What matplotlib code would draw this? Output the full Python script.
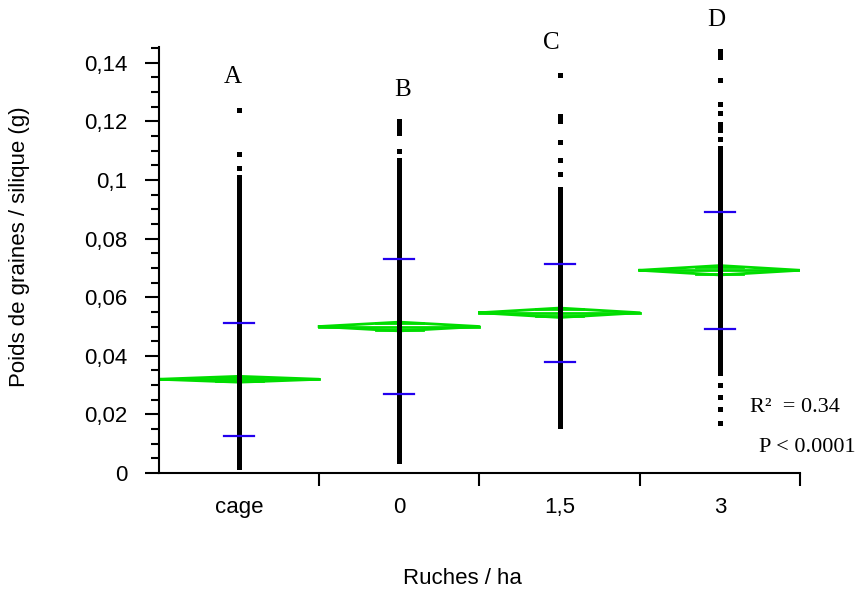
import matplotlib.pyplot as plt
import numpy as np
from matplotlib.ticker import FixedLocator, MultipleLocator, FuncFormatter

groups = ['cage', '0', '1,5', '3']
letters = ['A', 'B', 'C', 'D']
letter_y = [0.1352, 0.1308, 0.1468, 0.1547]
letter_x = [0.46, 1.52, 2.45, 3.48]

# seed weight per silique, in mg
cage_mg = [124, 109, 104,
           101, 100, 99, 98, 97, 96, 95, 94, 93, 92, 91, 90, 89, 88, 87, 86, 85, 84, 83, 82, 81,
           80, 79, 78, 77, 76, 75, 74, 73, 72, 71, 70, 69, 68, 67, 66, 65, 64, 63, 62, 61,
           60, 59, 58, 57, 56, 55, 54, 53, 52, 51, 50, 49, 48, 47, 46, 45, 44, 43, 42, 41,
           40, 39, 38, 37, 36, 35, 34, 33, 32, 31, 30, 29, 28, 27, 26, 25, 24, 23, 22, 21,
           20, 19, 18, 17, 16, 15, 14, 13, 12, 11, 10, 9, 8, 7, 6, 5, 4, 3, 2]
zero_mg = [120, 119, 118, 117, 116, 110,
           107, 106, 105, 104, 103, 102, 101, 100, 99, 98, 97, 96, 95, 94, 93, 92, 91, 90,
           89, 88, 87, 86, 85, 84, 83, 82, 81, 80, 79, 78, 77, 76, 75, 74, 73, 72, 71, 70,
           69, 68, 67, 66, 65, 64, 63, 62, 61, 60, 59, 58, 57, 56, 55, 54, 53, 52, 51, 50,
           49, 48, 47, 46, 45, 44, 43, 42, 41, 40, 39, 38, 37, 36, 35, 34, 33, 32, 31, 30,
           29, 28, 27, 26, 25, 24, 23, 22, 21, 20, 19, 18, 17, 16, 15, 14, 13, 12, 11, 10,
           9, 8, 7, 6, 5, 4]
one5_mg = [136, 122, 121, 120, 113, 107, 102,
           97, 96, 95, 94, 93, 92, 91, 90, 89, 88, 87, 86, 85, 84, 83, 82, 81, 80,
           79, 78, 77, 76, 75, 74, 73, 72, 71, 70, 69, 68, 67, 66, 65, 64, 63, 62, 61, 60,
           59, 58, 57, 56, 55, 54, 53, 52, 51, 50, 49, 48, 47, 46, 45, 44, 43, 42, 41, 40,
           39, 38, 37, 36, 35, 34, 33, 32, 31, 30, 29, 28, 27, 26, 25, 24, 23, 22, 21, 20,
           19, 18, 17, 16]
three_mg = [144, 143, 142, 134, 126, 123, 119, 118, 117, 114,
            111, 110, 109, 108, 107, 106, 105, 104, 103, 102, 101, 100, 99, 98, 97, 96, 95,
            94, 93, 92, 91, 90, 89, 88, 87, 86, 85, 84, 83, 82, 81, 80, 79, 78, 77, 76, 75,
            74, 73, 72, 71, 70, 69, 68, 67, 66, 65, 64, 63, 62, 61, 60, 59, 58, 57, 56, 55,
            54, 53, 52, 51, 50, 49, 48, 47, 46, 45, 44, 43, 42, 41, 40, 39, 38, 37, 36, 35,
            34, 30, 26, 22, 17]

means = [0.0320, 0.0500, 0.0547, 0.0692]
sds = [0.0193, 0.0232, 0.0167, 0.0200]
ci = [0.0010, 0.0015, 0.0016, 0.0016]

data = [cage_mg, zero_mg, one5_mg, three_mg]

fig = plt.figure(figsize=(8.58, 5.9), dpi=100)
ax = fig.add_axes([0.1853, 0.1983, 0.7471, 0.7225])

green = '#00dd00'
blue = '#2200ee'

for i, vals in enumerate(data):
    xc = i + 0.5
    y = np.array(vals) / 1000
    ax.plot(np.full(len(y), xc), y, ls='none', marker='s', ms=3.6, mew=0, color='black', zorder=3)

    m, c = means[i], ci[i]
    x0, x1 = i, i + 1
    # means diamond
    ax.plot([x0, xc, x1, xc, x0], [m, m + c, m, m - c, m], color=green, lw=2, zorder=2)
    ax.plot([x0, x1], [m, m], color=green, lw=2, zorder=2)
    # overlap marks
    d = 0.5 * (1 - 1 / np.sqrt(2))
    for s in (1, -1):
        ax.plot([xc - d, xc + d], [m + s * c / np.sqrt(2)] * 2, color=green, lw=2, zorder=2)
    # std dev lines
    for s in (1, -1):
        ax.plot([xc - 0.094, xc + 0.094], [m + s * sds[i]] * 2, color=blue, lw=1.6, zorder=4)

for i, t in enumerate(letters):
    ax.text(letter_x[i], letter_y[i], t, ha='center', va='center', fontsize=18,
            family='Liberation Serif', clip_on=False)

ax.set_xlim(0, 4)
ax.set_ylim(0, 0.1455)

for s in ['top', 'right']:
    ax.spines[s].set_visible(False)
for s in ['left', 'bottom']:
    ax.spines[s].set_linewidth(1.5)

ax.yaxis.set_major_locator(MultipleLocator(0.02))
ax.yaxis.set_minor_locator(MultipleLocator(0.005))
ax.yaxis.set_major_formatter(FuncFormatter(lambda v, p: ('%g' % round(v, 3)).replace('.', ',')))
ax.tick_params(axis='y', which='major', length=10, width=1.5, pad=13,
               labelsize=16, labelfontfamily='Liberation Sans')
ax.tick_params(axis='y', which='minor', length=5.5, width=1.5)

ax.xaxis.set_major_locator(FixedLocator([1, 2, 3, 4]))
ax.xaxis.set_minor_locator(FixedLocator([0.5, 1.5, 2.5, 3.5]))
ax.xaxis.set_major_formatter(FuncFormatter(lambda v, p: ''))
ax.set_xticklabels(groups, minor=True)
ax.tick_params(axis='x', which='major', length=9, width=1.5)
ax.tick_params(axis='x', which='minor', length=0, pad=17,
               labelsize=16, labelfontfamily='Liberation Sans')

fig.text(462 / 858, 1 - 578 / 590, 'Ruches / ha', ha='center', va='center',
         fontsize=16, family='Liberation Sans')
fig.text(20 / 858, 1 - 247 / 590, 'Poids de graines / silique (g)', ha='center', va='center',
         rotation=90, fontsize=16, family='Liberation Sans')

fig.text(750 / 858, 1 - 407 / 590, 'R²  = 0.34', ha='left', va='center',
         fontsize=16, family='Liberation Serif')
fig.text(759 / 858, 1 - 448 / 590, 'P < 0.0001', ha='left', va='center',
         fontsize=16, family='Liberation Serif')

fig.savefig('out.png', dpi=100)
